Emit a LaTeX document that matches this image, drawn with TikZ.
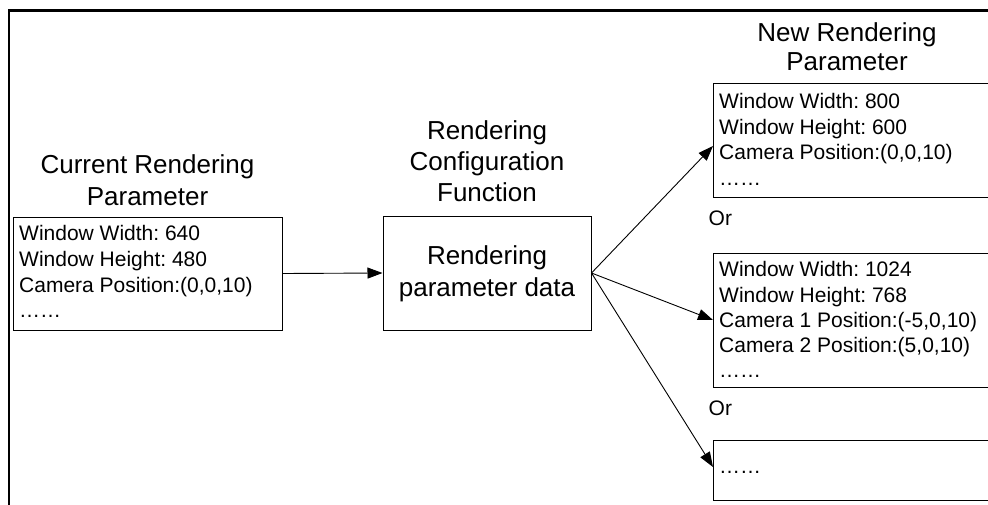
\documentclass[tikz,border=0pt]{standalone}
\usepackage{fontspec}
\setmainfont{Liberation Sans}
\usetikzlibrary{arrows.meta}
\frenchspacing
\begin{document}
\begin{tikzpicture}[x=1pt,y=-1pt,
  box/.style={draw=black,line width=1pt,inner sep=0pt},
  heading/.style={align=center,anchor=base,inner sep=0pt,font=\fontsize{26}{31.5}\selectfont},
  params/.style={align=left,anchor=base west,inner sep=0pt,font=\fontsize{21}{25.7}\selectfont},
  ortext/.style={anchor=base west,inner sep=0pt,font=\fontsize{21}{25.7}\selectfont},
  flow/.style={-{Triangle[length=15pt,width=11pt]},line width=0.9pt}]
\useasboundingbox (0,0) rectangle (988,504);
\clip (0,0) rectangle (988,504);

% outer frame
\draw[line width=2.5pt] (9,10.3) rectangle (1010,530);

% current parameters (multi-line nodes sit on the baseline of their last line)
\node[heading,font=\fontsize{26}{32}\selectfont] (curtitle) at (147.5,205.5) {Current Rendering\\Parameter};
\node[box,minimum width=269pt,minimum height=113pt] (cur) at (147.5,273.5) {};
\node[params] (curtext) at (19,317.8)
  {Window Width: 640\\Window Height: 480\\Camera Position:(0,0,10)\\……};

% configuration function
\node[heading,font=\fontsize{26}{31.2}\selectfont] (fntitle) at (487,201.7)
  {Rendering\\Configuration\\Function};
\node[box,minimum width=208pt,minimum height=114pt] (fn) at (487,273) {};
\node[heading,font=\fontsize{26}{32}\selectfont] (fntext) at (487,296.5)
  {Rendering\\parameter data};

% new parameters
\node[heading,font=\fontsize{26}{28.5}\selectfont] (newtitle) at (847,70)
  {New Rendering\\Parameter};
\node[box,minimum width=400pt,minimum height=114pt] (newa) at (913,140) {};
\node[params] (newatext) at (719,185.4)
  {Window Width: 800\\Window Height: 600\\Camera Position:(0,0,10)\\……};
\node[ortext] (or1) at (708.5,225.5) {Or};
\node[box,minimum width=400pt,minimum height=133.5pt] (newb) at (913,320.25) {};
\node[params,font=\fontsize{21}{25.3}\selectfont] (newbtext) at (719,377.9)
  {Window Width: 1024\\Window Height: 768\\Camera 1 Position:(-5,0,10)\\Camera 2 Position:(5,0,10)\\……};
\node[ortext] (or2) at (708.5,415.5) {Or};
\node[box,minimum width=400pt,minimum height=60pt] (newc) at (913,470) {};
\node[params] (newctext) at (719,473) {……};

% connectors
\coordinate (ina) at (713,146);
\coordinate (inb) at (713,320);
\coordinate (inc) at (713,467);
\draw[flow] (cur.east) -- (fn.west);
\draw[flow] (fn.east) -- (ina);
\draw[flow] (fn.east) -- (inb);
\draw[flow] (fn.east) -- (inc);
\end{tikzpicture}
\end{document}
